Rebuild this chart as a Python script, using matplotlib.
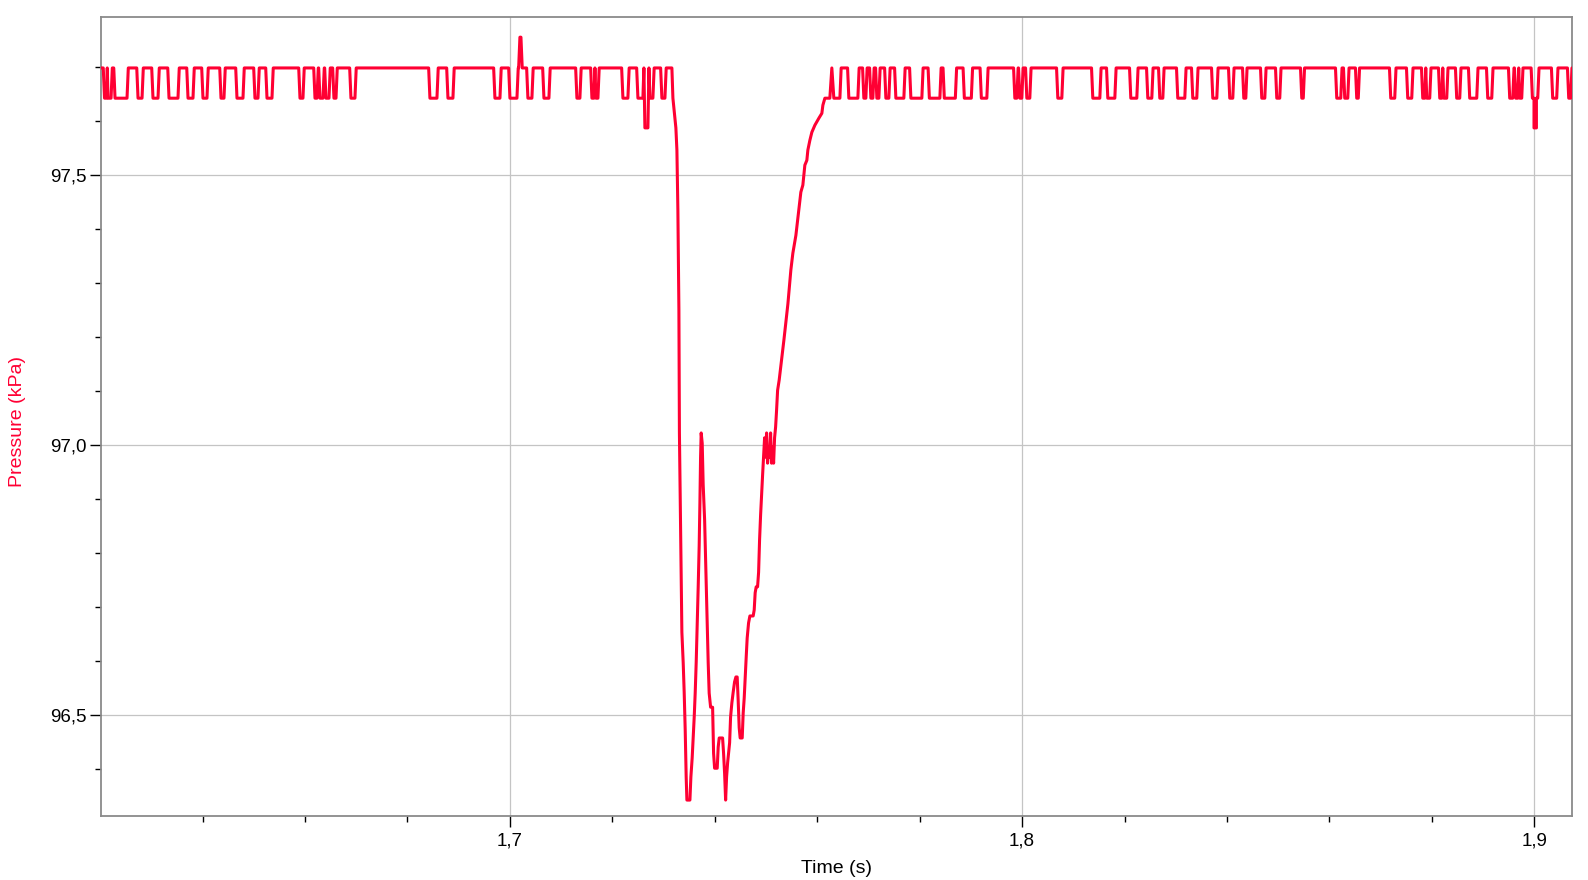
import numpy as np
import matplotlib
matplotlib.use("Agg")
import matplotlib.pyplot as plt
from matplotlib.ticker import MultipleLocator, FuncFormatter

# ---------------- data ----------------
H, L, LL, PK = 97.699, 97.643, 97.588, 97.756   # quantised pressure levels (kPa)

# baseline before the pressure drop: (start s, end s, level)
PRE_START = [1.62085, 1.62153, 1.62290, 1.62739, 1.63031, 1.63344, 1.63715, 1.64007,
             1.64359, 1.64671, 1.65022, 1.65257, 1.65901, 1.66194, 1.66291, 1.66408,
             1.66564, 1.66896, 1.68438, 1.68790, 1.69707, 1.70000, 1.70195, 1.70351,
             1.70664, 1.71308, 1.71601, 1.71679, 1.72206, 1.72499, 1.72635, 1.72733,
             1.72967]
PRE_END = [1.62124, 1.62212, 1.62524, 1.62817, 1.63129, 1.63519, 1.63812, 1.64085,
           1.64417, 1.64788, 1.65081, 1.65354, 1.65959, 1.66233, 1.66350, 1.66467,
           1.66604, 1.66974, 1.68575, 1.68887, 1.69805, 1.70137, 1.70215, 1.70429,
           1.70761, 1.71366, 1.71640, 1.71718, 1.72303, 1.72596, 1.72694, 1.72791,
           1.73026]
PRE_LEVEL = [L, L, L, L, L, L, L, L, L, L, L, L, L, L, L, L, L, L, L, L, L, L, PK, L,
             L, L, L, L, L, L, LL, L, L]

# the pressure drop event
EVENT_T = [1.73162, 1.73182, 1.73240, 1.73260, 1.73279, 1.73299, 1.73309, 1.73338, 1.73357,
           1.73383, 1.73402, 1.73422, 1.73441, 1.73455, 1.73514, 1.73533, 1.73558, 1.73578,
           1.73598, 1.73617, 1.73637, 1.73656, 1.73676, 1.73695, 1.73709, 1.73722, 1.73734,
           1.73754, 1.73773, 1.73801, 1.73826, 1.73851, 1.73871, 1.73890, 1.73918, 1.73957,
           1.73963, 1.73976, 1.73996, 1.74047, 1.74066, 1.74086, 1.74152, 1.74171, 1.74191,
           1.74211, 1.74230, 1.74250, 1.74269, 1.74289, 1.74308, 1.74333, 1.74359, 1.74386,
           1.74412, 1.74437, 1.74456, 1.74476, 1.74495, 1.74535, 1.74554, 1.74574, 1.74593,
           1.74613, 1.74632, 1.74659, 1.74685, 1.74749, 1.74769, 1.74788, 1.74808, 1.74835,
           1.74855, 1.74874, 1.74894, 1.74913, 1.74933, 1.74952, 1.74972, 1.74991, 1.75011,
           1.75030, 1.75050, 1.75069, 1.75089, 1.75108, 1.75128, 1.75148, 1.75167, 1.75187,
           1.75206, 1.75226, 1.75257, 1.75349, 1.75427, 1.75485, 1.75524, 1.75583, 1.75622,
           1.75680, 1.75719, 1.75758, 1.75797, 1.75817, 1.75856, 1.75895, 1.75954, 1.76032,
           1.76090, 1.76110, 1.76149, 1.76246, 1.76285]
EVENT_P = [97.699, 97.643, 97.588, 97.547, 97.436, 97.251, 97.023, 96.797, 96.654,
           96.597, 96.543, 96.473, 96.386, 96.343, 96.343, 96.386, 96.421, 96.460,
           96.497, 96.541, 96.599, 96.664, 96.739, 96.815, 96.893, 96.978, 97.023,
           97.004, 96.927, 96.862, 96.767, 96.673, 96.597, 96.541, 96.515, 96.515,
           96.488, 96.430, 96.402, 96.402, 96.441, 96.458, 96.458, 96.430, 96.393,
           96.343, 96.386, 96.412, 96.430, 96.449, 96.497, 96.523, 96.543, 96.562,
           96.571, 96.571, 96.528, 96.477, 96.458, 96.458, 96.504, 96.532, 96.571,
           96.608, 96.643, 96.671, 96.684, 96.684, 96.695, 96.727, 96.738, 96.738,
           96.765, 96.825, 96.871, 96.908, 96.945, 96.978, 97.014, 96.978, 97.023,
           96.967, 96.997, 96.978, 97.023, 96.967, 96.997, 96.967, 97.014, 97.034,
           97.065, 97.102, 97.121, 97.195, 97.262, 97.325, 97.356, 97.389, 97.421,
           97.469, 97.482, 97.519, 97.528, 97.547, 97.565, 97.580, 97.593, 97.606,
           97.615, 97.630, 97.643, 97.643, 97.699]

# baseline after recovery: (start s, end s, level)
POST_START = [1.76324, 1.76617, 1.76910, 1.77047, 1.77164, 1.77340, 1.77535, 1.77828,
              1.78189, 1.78481, 1.78872, 1.79204, 1.79858, 1.79955, 1.80092, 1.80697,
              1.81380, 1.81673, 1.82122, 1.82454, 1.82688, 1.83039, 1.83332, 1.83723,
              1.84054, 1.84328, 1.84679, 1.84972, 1.85460, 1.86143, 1.86299, 1.86533,
              1.87197, 1.87529, 1.87822, 1.87900, 1.88154, 1.88232, 1.88485, 1.88739,
              1.89091, 1.89520, 1.89637, 1.89715, 1.89963, 1.89994, 1.90041, 1.90359,
              1.90672]
POST_END = [1.76442, 1.76793, 1.76949, 1.77086, 1.77203, 1.77398, 1.77691, 1.78042,
            1.78394, 1.78696, 1.79008, 1.79311, 1.79897, 1.79994, 1.80150, 1.80775,
            1.81517, 1.81810, 1.82239, 1.82532, 1.82747, 1.83176, 1.83410, 1.83801,
            1.84113, 1.84367, 1.84738, 1.85030, 1.85489, 1.86221, 1.86358, 1.86563,
            1.87275, 1.87607, 1.87861, 1.87958, 1.88193, 1.88290, 1.88544, 1.88876,
            1.89169, 1.89579, 1.89676, 1.89754, 1.89994, 1.90041, 1.90067, 1.90437,
            1.90710]
POST_LEVEL = [L] * 44 + [L, LL, L, L, L]

T_FIRST, T_LAST = 1.6200, 1.9075

RED = "#FF0033"


def build(starts, ends, levels, t_first, t_last, dt=0.00025):
    ts, ps = [t_first], [H]
    prev_end, prev_level = t_first, H
    for s, e, v in zip(starts, ends, levels):
        gap = s - prev_end
        adjacent = (prev_level != H and v != H and gap < 1e-4) or gap < 0
        if not adjacent:
            if gap > 2 * dt:
                if prev_level != H:
                    ts.append(prev_end + dt); ps.append(H)
                ts.append(s - dt); ps.append(H)
            elif prev_level != H:
                ts.append(prev_end + gap / 2); ps.append(H)
        ts.append(s); ps.append(v)
        if e > s:
            ts.append(e); ps.append(v)
        prev_end, prev_level = e, v
    if t_last - prev_end > dt:
        if prev_level != H:
            ts.append(prev_end + dt); ps.append(H)
        ts.append(t_last); ps.append(H)
    return ts, ps


t1, p1 = build(PRE_START, PRE_END, PRE_LEVEL, T_FIRST, EVENT_T[0])
t3, p3 = build(POST_START, POST_END, POST_LEVEL, EVENT_T[-1], T_LAST)
t_all = t1 + EVENT_T[1:] + t3[1:]
p_all = p1 + EVENT_P[1:] + p3[1:]

# ---------------- figure ----------------
plt.rcParams["font.family"] = ["Liberation Sans", "DejaVu Sans"]
fig = plt.figure(figsize=(15.88, 8.80), dpi=100)
ax = fig.add_axes([101 / 1588, 1 - 816 / 880, (1571.7 - 101) / 1588, (816 - 17.2) / 880])

ax.plot(t_all, p_all, color=RED, lw=2.2, zorder=3)

ax.set_xlim(1.62016, 1.9073)
ax.set_ylim(96.3135, 97.793)

ax.xaxis.set_major_locator(MultipleLocator(0.1))
ax.xaxis.set_minor_locator(MultipleLocator(0.02))
ax.yaxis.set_major_locator(MultipleLocator(0.5))
ax.yaxis.set_minor_locator(MultipleLocator(0.1))

ax.xaxis.set_major_formatter(FuncFormatter(lambda v, _: f"{v:.1f}".replace(".", ",")))
ax.yaxis.set_major_formatter(FuncFormatter(lambda v, _: f"{v:.1f}".replace(".", ",")))

ax.grid(True, which="major", color="#c4c4c4", lw=0.9, zorder=0)
ax.tick_params(which="major", direction="out", length=8, width=1.0, color="black",
               labelsize=13.5, labelcolor="black")
ax.tick_params(axis="x", which="major", pad=4)
ax.tick_params(axis="y", which="major", pad=2)
ax.tick_params(which="minor", direction="out", length=4, width=1.0, color="black")

for sp in ax.spines.values():
    sp.set_color("#8a8a8a")
    sp.set_linewidth(1.3)

fig.text(836 / 1588, 1 - 868 / 880, "Time (s)", ha="center", va="center",
         fontsize=14, color="black")
fig.text(18 / 1588, 1 - 421 / 880, "Pressure (kPa)", ha="center", va="center",
         rotation=90, fontsize=14, color=RED)

fig.savefig("out.png", dpi=100)
